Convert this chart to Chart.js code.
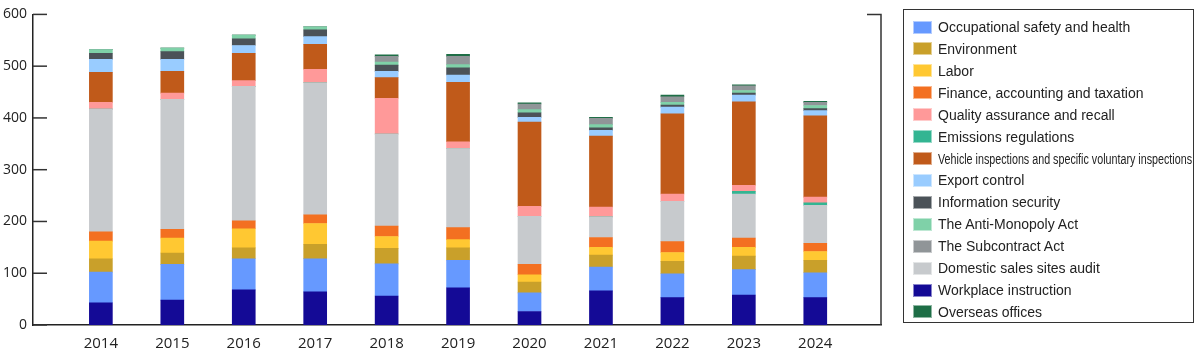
<!DOCTYPE html>
<html lang="en">
  <head>
    <meta charset="UTF-8" />
    <title>Audit chart</title>
    <script src="https://cdn.jsdelivr.net/npm/chart.js"></script>
    <style>
      body { margin: 0; background: #fff; }
      .wrap { position: relative; width: 1200px; height: 361px; }
      #legend {
        position: absolute;
        left: 903px;
        top: 9px;
        width: 291px;
        height: 314px;
        border: 1.5px solid #333;
        box-sizing: border-box;
        font-family: "Liberation Sans", Arial, sans-serif;
        font-size: 14px;
        color: #222;
      }
      .item {
        position: absolute;
        left: 9px;
        height: 16px;
        display: flex;
        align-items: center;
        white-space: nowrap;
      }
      .sw {
        width: 19px;
        height: 13px;
        margin-right: 6px;
        box-sizing: border-box;
        border: 1px solid rgba(255, 255, 255, 0.5);
        flex: none;
      }
      .narrow { display: inline-block; transform-origin: left center; }
    </style>
  </head>
  <body>
    <div class="wrap">
      <canvas id="auditChart"></canvas>
      <div id="legend"></div>
    </div>
    <script>
      const years = [2014, 2015, 2016, 2017, 2018, 2019, 2020, 2021, 2022, 2023, 2024];
      const yTicks = [0, 100, 200, 300, 400, 500, 600];

      const workplace = [43, 48, 68, 64, 56, 72, 26, 66, 53, 58, 53];
      const safety = [59, 69, 60, 64, 62, 53, 36, 46, 46, 49, 48];
      const environment = [26, 22, 21, 28, 30, 24, 21, 23, 24, 26, 24];
      const labor = [34, 29, 37, 40, 23, 16, 14, 15, 17, 17, 17];
      const finance = [18, 17, 15, 17, 20, 23, 20, 19, 21, 18, 16];
      const domesticSales = [237, 251, 260, 255, 178, 153, 93, 40, 78, 85, 73];
      const emissions = [0, 0, 0, 0, 0, 0, 0, 0, 0, 5, 5];
      const quality = [13, 12, 11, 26, 69, 13, 19, 19, 14, 12, 11];
      const vehicle = [58, 42, 53, 48, 40, 115, 163, 137, 155, 161, 157];
      const exportCtrl = [25, 23, 15, 15, 12, 14, 9, 11, 13, 13, 10];
      const infoSec = [12, 15, 13, 13, 12, 14, 9, 5, 4, 4, 4];
      const antiMonopoly = [7, 7, 7, 6, 6, 6, 6, 6, 5, 5, 6];
      const subcontract = [0, 0, 0, 0, 11, 16, 11, 12, 11, 9, 6];
      const overseas = [0, 0, 0, 0, 3, 4, 2, 2, 3, 2, 2];

      // stacking order, bottom to top
      const series = [
        ["Workplace instruction", workplace, "#140a96"],
        ["Occupational safety and health", safety, "#6699ff"],
        ["Environment", environment, "#c9a02a"],
        ["Labor", labor, "#ffc832"],
        ["Finance, accounting and taxation", finance, "#f37021"],
        ["Domestic sales sites audit", domesticSales, "#c7cacd"],
        ["Emissions regulations", emissions, "#33b592"],
        ["Quality assurance and recall", quality, "#ff9999"],
        ["Vehicle inspections and specific voluntary inspections", vehicle, "#c05a1a"],
        ["Export control", exportCtrl, "#99ccff"],
        ["Information security", infoSec, "#4b5258"],
        ["The Anti-Monopoly Act", antiMonopoly, "#7fd1a8"],
        ["The Subcontract Act", subcontract, "#909598"],
        ["Overseas offices", overseas, "#1e6e46"],
      ];

      const legendOrder = [
        "Occupational safety and health",
        "Environment",
        "Labor",
        "Finance, accounting and taxation",
        "Quality assurance and recall",
        "Emissions regulations",
        "Vehicle inspections and specific voluntary inspections",
        "Export control",
        "Information security",
        "The Anti-Monopoly Act",
        "The Subcontract Act",
        "Domestic sales sites audit",
        "Workplace instruction",
        "Overseas offices",
      ];

      // inward tick marks + right frame
      const frame = {
        id: "frame",
        afterDraw(chart) {
          const { ctx, chartArea, scales } = chart;
          ctx.save();
          ctx.strokeStyle = "#333";
          ctx.lineWidth = 1.5;
          scales.y.ticks.forEach((t) => {
            const y = scales.y.getPixelForValue(t.value);
            ctx.beginPath();
            ctx.moveTo(chartArea.left, y);
            ctx.lineTo(chartArea.left + 14, y);
            ctx.stroke();
          });
          ctx.beginPath();
          ctx.moveTo(chartArea.right - 14, chartArea.top);
          ctx.lineTo(chartArea.right, chartArea.top);
          ctx.lineTo(chartArea.right, chartArea.bottom);
          ctx.stroke();
          ctx.restore();
        },
      };

      const ctx = document.getElementById("auditChart").getContext("2d");
      const chart = new Chart(ctx, {
        type: "bar",
        data: {
          labels: years,
          datasets: series.map(([label, data, color]) => ({
            label,
            data,
            backgroundColor: color,
            borderWidth: 0,
            barThickness: 23,
          })),
        },
        options: {
          responsive: true,
          maintainAspectRatio: false,
          animation: false,
          layout: { padding: { top: 10, right: 319, left: 0, bottom: 0 } },
          plugins: { legend: { display: false }, tooltip: { enabled: false } },
          scales: {
            x: {
              type: "linear",
              stacked: true,
              offset: false,
              min: 2013.05,
              max: 2024.92,
              grid: { display: false, drawTicks: false },
              border: { display: true, color: "#222", width: 1.5 },
              afterBuildTicks: (s) => {
                s.ticks = years.map((v) => ({ value: v }));
              },
              afterFit: (s) => {
                s.height = 36;
              },
              ticks: {
                padding: 10,
                color: "#222",
                font: { family: "'Open Sans'", size: 15 },
                callback: (v) => String(v),
              },
            },
            y: {
              stacked: true,
              min: 0,
              max: 600,
              grid: { display: false, drawTicks: false },
              border: { display: true, color: "#222", width: 1.5 },
              afterBuildTicks: (s) => {
                s.ticks = yTicks.map((v) => ({ value: v }));
              },
              afterFit: (s) => {
                s.width = 33;
              },
              ticks: {
                padding: 6,
                color: "#222",
                font: { family: "'Open Sans'", size: 14 },
              },
            },
          },
        },
        plugins: [frame],
      });

      // html legend in its own order
      const legend = document.getElementById("legend");
      legendOrder.forEach((name, i) => {
        const ds = chart.data.datasets.find((d) => d.label === name);
        const item = document.createElement("div");
        item.className = "item";
        item.style.top = 9 + i * 21.92 + "px";
        const sw = document.createElement("span");
        sw.className = "sw";
        sw.style.background = ds.backgroundColor;
        const txt = document.createElement("span");
        txt.textContent = name;
        item.appendChild(sw);
        item.appendChild(txt);
        legend.appendChild(item);
        if (name.startsWith("Vehicle")) {
          txt.className = "narrow";
          const w = txt.getBoundingClientRect().width;
          txt.style.transform = "scaleX(" + 254 / w + ")";
        }
      });
    </script>
  </body>
</html>
